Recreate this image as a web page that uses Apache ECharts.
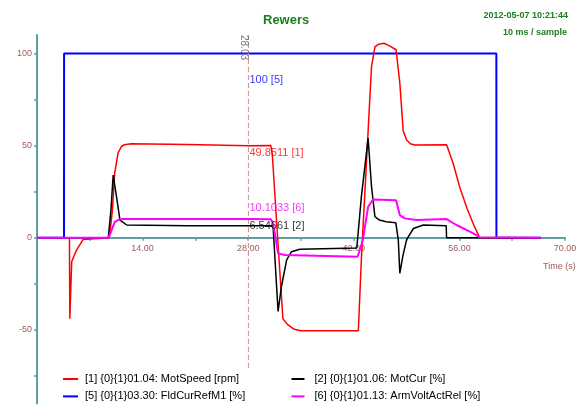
<!DOCTYPE html>
<html>
<head>
<meta charset="utf-8">
<script src="https://cdn.jsdelivr.net/npm/echarts@6/dist/echarts.min.js"></script>
<style>
html,body{margin:0;padding:0;background:#fff;}
#c{width:579px;height:405px;}
</style>
</head>
<body>
<div id="c"></div>
<script>
// ---- data ----
const titleText = 'Rewers';
const dateText = '2012-05-07 10:21:44';
const rateText = '10 ms / sample';
const xAxisTitle = 'Time (s)';

const seriesNames = [
  '[1] {0}{1}01.04: MotSpeed [rpm]',
  '[5] {0}{1}03.30: FldCurRefM1 [%]',
  '[2] {0}{1}01.06: MotCur [%]',
  '[6] {0}{1}01.13: ArmVoltActRel [%]'
];

const motSpeedT = [0, 4.3, 4.35, 4.6, 5.2, 6.1, 6.3, 9.6, 10.0, 10.3, 10.75, 11.2, 11.6, 12.5, 20, 28.03, 31.0, 31.2, 31.9, 32.6, 33.2, 34.0, 35.0, 42.6, 43.0, 43.9, 44.35, 44.8, 45.3, 46.0, 46.8, 47.6, 48.1, 48.55, 49.0, 49.5, 50.1, 54.3, 55.2, 56.0, 57.0, 58.0, 58.7, 66.8];
const motSpeedV = [0, 0, -44, -13, -7, -1, 0, 0, 15, 35, 46, 49.5, 50.5, 51, 50.6, 49.85, 50, 45, 0, -44, -47, -49.5, -50.5, -50.5, -12, 58, 93, 103.6, 105, 105.5, 104, 102, 84, 58, 53, 51, 50.3, 50.5, 40, 28, 16, 6, 0, 0];

const fldCurT = [0, 3.58, 3.59, 60.9, 60.91, 66.8];
const fldCurV = [0, 0, 100, 100, 0, 0];

const motCurT = [0, 9.45, 9.8, 10.1, 10.55, 11.0, 11.9, 20, 28.03, 31.0, 31.3, 31.96, 32.4, 33.1, 33.74, 34.84, 42.4, 43.0, 43.9, 44.35, 44.8, 45.4, 46.3, 47.57, 47.9, 48.1, 48.5, 49.0, 49.9, 51.2, 54.25, 54.3, 66.8];
const motCurV = [0, 0, 15, 34, 22, 9.6, 6.9, 6.5, 6.55, 6.5, 6, -40, -26.6, -12, -7.6, -6.3, -5.6, 22, 54, 27.7, 11.4, 9.6, 8.7, 8.1, -1.2, -19.3, -10, -1, 5, 6.9, 6.5, 0, 0];

const armVoltT = [0, 9.45, 9.8, 10.3, 10.9, 11.5, 20, 28.03, 31.0, 31.3, 31.96, 32.85, 42.5, 43.2, 43.9, 44.56, 47.6, 48.1, 48.76, 50.3, 54.3, 55.6, 57.4, 58.7, 66.8];
const armVoltV = [0, 0, 3, 8.5, 9.9, 10.2, 10.2, 10.1, 10, 7.8, -8.5, -9.4, -10.3, -1.2, 16.8, 20.8, 20.4, 12.3, 10.5, 9.6, 10.1, 6.9, 3.3, 0.3, 0];

const cursorTime = 28.03;
const cursorLabel = '28.03';
const cursorSpan = [110, -70.7];
const cursorValues = [100, 49.8511, 10.1033, 6.54661];
const cursorIds = ['[5]', '[1]', '[6]', '[2]'];

const xLabelValues = [14, 28, 42, 56, 70];
const xTickValues = [7, 14, 21, 28, 35, 42, 49, 56, 63, 70];
const yLabelValues = [-50, 0, 50, 100];
const yTickValues = [-75, -50, -25, 0, 25, 50, 75, 100];
const yRange = [-90, 110];
const xRange = [0, 70];

// ---- styles ----
const FONT = 'Liberation Sans, Arial, sans-serif';
const colors = ['#ff0000', '#0000ff', '#000000', '#ff00ff'];
const cursorColors = ['#0000ff', '#ff0000', '#ff00ff', '#000000'];
const cursorDy = [26.7, 7.5, -11.4, 0];
const axisColor = '#5f9ea0';
const labelColor = '#a05a5a';
const green = '#1d7d1d';

function zip(t, v) { return t.map((x, i) => [x, v[i]]); }

const lineData = [
  zip(motSpeedT, motSpeedV),
  zip(fldCurT, fldCurV),
  zip(motCurT, motCurV),
  zip(armVoltT, armVoltV)
];
const widths = [1.5, 2, 1.5, 2];
const zOrder = [3, 1, 4, 5];

const series = seriesNames.map((n, i) => ({
  name: n,
  type: 'line',
  xAxisIndex: 0, yAxisIndex: 0,
  data: lineData[i],
  showSymbol: false,
  symbol: 'none',
  z: zOrder[i],
  lineStyle: { color: colors[i], width: widths[i] },
  itemStyle: { color: colors[i] },
  animation: false
}));

series.push({
  type: 'line',
  name: 'cursor',
  xAxisIndex: 0, yAxisIndex: 0,
  data: [[cursorTime, cursorSpan[0]], [cursorTime, cursorSpan[1]]],
  showSymbol: false,
  symbol: 'none',
  z: 2,
  lineStyle: { color: '#c89090', width: 1, type: [5, 3] },
  animation: false,
  silent: true
});

series.push({
  type: 'scatter',
  name: 'cursorTimeLabel',
  xAxisIndex: 0, yAxisIndex: 0,
  symbolSize: 0,
  z: 10,
  data: [{
    value: [cursorTime, cursorSpan[0]],
    label: { show: true, formatter: cursorLabel, rotate: -90, position: [-4.5, 0],
             align: 'left', verticalAlign: 'middle', color: '#555', fontSize: 10, fontFamily: FONT }
  }],
  animation: false,
  silent: true
});

series.push({
  type: 'scatter',
  name: 'cursorValues',
  xAxisIndex: 0, yAxisIndex: 0,
  symbolSize: 0,
  z: 10,
  data: cursorValues.map((v, i) => ({
    value: [cursorTime, v],
    label: {
      show: true,
      position: 'right',
      distance: 1,
      offset: [0, cursorDy[i]],
      formatter: v + ' ' + cursorIds[i],
      color: cursorColors[i],
      fontSize: 11,
      fontFamily: FONT
    }
  })),
  animation: false,
  silent: true
});

// helper grid whose bottom edge sits at y = 0 of the main grid, to carry the x axis
const plotTop = 35, plotBottomPx = 403.6;
const pxPerUnit = (plotBottomPx - plotTop) / (yRange[1] - yRange[0]);
const zeroPx = plotTop + yRange[1] * pxPerUnit;

const chart = echarts.init(document.getElementById('c'), null, { renderer: 'canvas' });
chart.setOption({
  backgroundColor: '#ffffff',
  animation: false,
  title: {
    text: titleText,
    left: 263,
    top: 13.5,
    padding: 0,
    textStyle: { color: green, fontSize: 13, fontWeight: 'bold', fontFamily: FONT }
  },
  grid: [
    { left: 37, right: 14, top: plotTop, height: plotBottomPx - plotTop, containLabel: false, outerBoundsMode: 'none' },
    { left: 37, right: 14, top: plotTop, height: zeroPx - plotTop, containLabel: false, outerBoundsMode: 'none' }
  ],
  xAxis: [
    {
      gridIndex: 0, type: 'value', min: xRange[0], max: xRange[1],
      axisLine: { show: false }, axisTick: { show: false }, axisLabel: { show: false }, splitLine: { show: false }
    },
    {
      gridIndex: 1, type: 'value', min: xRange[0], max: xRange[1], interval: 7, position: 'bottom',
      axisLine: { show: true, onZero: false, lineStyle: { color: axisColor, width: 2 } },
      axisTick: { show: true, length: 3, customValues: xTickValues, lineStyle: { color: axisColor, width: 1.5 } },
      axisLabel: { customValues: xLabelValues, formatter: v => v.toFixed(2), color: labelColor, fontSize: 9, fontFamily: FONT, margin: 6 },
      splitLine: { show: false }
    }
  ],
  yAxis: [
    {
      gridIndex: 0, type: 'value', min: yRange[0], max: yRange[1],
      axisLine: { show: true, onZero: false, lineStyle: { color: axisColor, width: 2 } },
      axisTick: { show: true, length: 3, customValues: yTickValues, lineStyle: { color: axisColor, width: 1.5 } },
      axisLabel: { customValues: yLabelValues, color: labelColor, fontSize: 9, fontFamily: FONT, margin: 5 },
      splitLine: { show: false }
    },
    {
      gridIndex: 1, type: 'value', min: 0, max: yRange[1],
      axisLine: { show: false }, axisTick: { show: false }, axisLabel: { show: false }, splitLine: { show: false }
    }
  ],
  legend: [
    {
      data: [seriesNames[0], seriesNames[1]],
      orient: 'vertical', left: 63, top: 372.5, padding: 0,
      itemWidth: 15, itemHeight: 2, itemGap: 4.4, icon: 'rect',
      textStyle: { fontSize: 11, fontFamily: FONT, color: '#000', lineHeight: 13, padding: [0, 0, 0, 2] },
      selectedMode: false
    },
    {
      data: [seriesNames[2], seriesNames[3]],
      orient: 'vertical', left: 291.5, top: 372.5, padding: 0,
      itemWidth: 13, itemHeight: 2, itemGap: 4.4, icon: 'rect',
      textStyle: { fontSize: 11, fontFamily: FONT, color: '#000', lineHeight: 13, padding: [0, 0, 0, 5] },
      selectedMode: false
    }
  ],
  graphic: [
    { type: 'text', x: 568, y: 16, style: { text: dateText, align: 'right', verticalAlign: 'middle', fill: green, font: 'bold 9px ' + FONT } },
    { type: 'text', x: 567, y: 32.5, style: { text: rateText, align: 'right', verticalAlign: 'middle', fill: green, font: 'bold 9px ' + FONT } },
    { type: 'text', x: 543, y: 267, style: { text: xAxisTitle, align: 'left', verticalAlign: 'middle', fill: labelColor, font: '9px ' + FONT } }
  ],
  series: series
});
</script>
</body>
</html>
